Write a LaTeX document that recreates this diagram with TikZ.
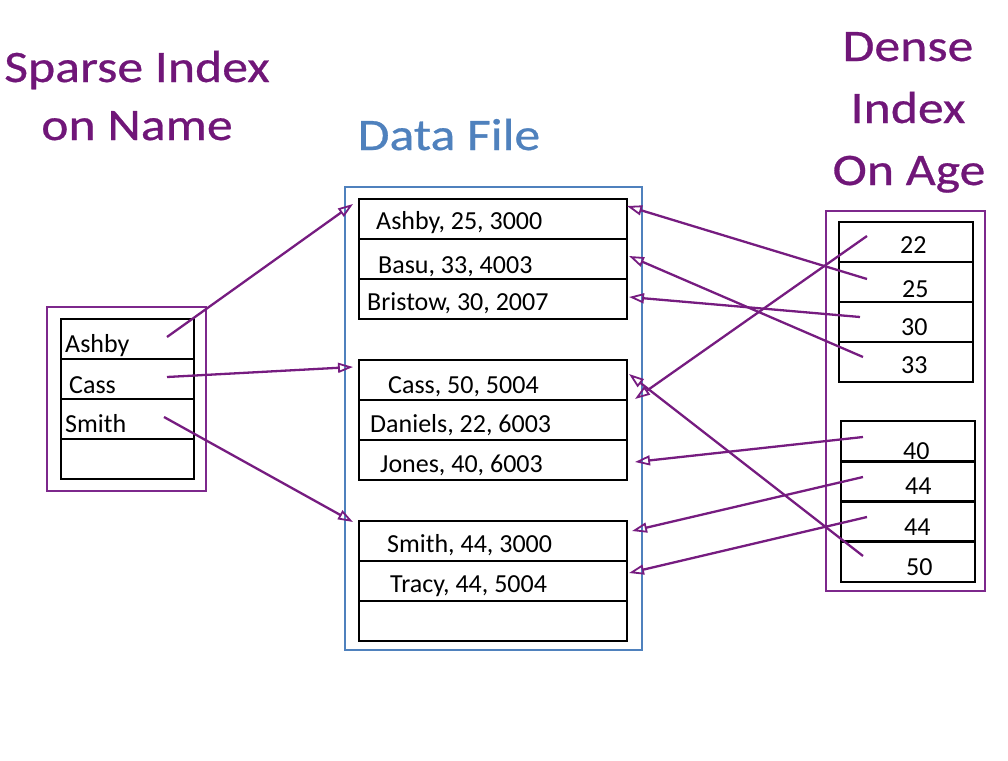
\documentclass[tikz,border=0pt]{standalone}
\usepackage{fontspec}
\setmainfont{Carlito}
\newfontfamily\titlefont[FakeStretch=1.15,FakeBold=0.6]{Carlito}
\usetikzlibrary{arrows.meta}
\definecolor{ttlpurple}{RGB}{112,22,120}
\definecolor{arrpurple}{RGB}{118,28,128}
\definecolor{boxpurple}{RGB}{125,40,140}
\definecolor{fileblue}{RGB}{79,129,189}
\tikzset{
  cellbox/.style={draw=black, line width=2.3pt, anchor=north west, inner sep=0pt},
  outerbox/.style={draw=boxpurple, line width=2.3pt, anchor=north west, inner sep=0pt},
  filebox/.style={draw=fileblue, line width=1.8pt, anchor=north west, inner sep=0pt},
  txt/.style={anchor=base west, inner sep=0pt, font=\fontsize{26}{31}\selectfont},
  ttl/.style={anchor=base, inner sep=0pt, font=\titlefont\fontsize{45}{54}\selectfont},
  ptr/.style={draw=arrpurple, line width=2.3pt, -{Triangle[open, length=15pt, width=10pt, line width=1.8pt]}}
}
\begin{document}
\begin{tikzpicture}[x=1pt,y=-1pt]
\useasboundingbox (0,0) rectangle (1008,760);

% titles
\node[ttl, text=ttlpurple] (t1) at (137,82) {Sparse Index};
\node[ttl, text=ttlpurple] (t2) at (137,140) {on Name};
\node[ttl, text=fileblue] (t3) at (449,150) {Data File};
\node[ttl, text=ttlpurple] (t4) at (908,61) {Dense};
\node[ttl, text=ttlpurple] (t5) at (908,123) {Index};
\node[ttl, text=ttlpurple] (t6) at (909,185) {On Age};

% outer boxes
\node[outerbox, minimum width=159pt, minimum height=184pt] (sparse) at (46,306) {};
\node[filebox, minimum width=297pt, minimum height=463pt] (file) at (344,186) {};
\node[outerbox, minimum width=159pt, minimum height=380pt] (dense) at (825,210) {};

% sparse cells
\foreach \i/\y in {1/318,2/358,3/398,4/438}
  \node[cellbox, minimum width=133pt, minimum height=40pt] (s\i) at (60,\y) {};

% data cells
\foreach \i/\y in {1/198,2/238,3/278,4/359,5/399,6/439,7/520,8/560,9/600}
  \node[cellbox, minimum width=268pt, minimum height=40pt] (d\i) at (358,\y) {};

% dense cells
\foreach \i/\y in {1/221,2/261,3/301,4/341}
  \node[cellbox, minimum width=134pt, minimum height=40pt] (a\i) at (838,\y) {};
\foreach \i/\y in {5/420,6/460,7/500,8/540}
  \node[cellbox, minimum width=134pt, minimum height=41pt] (a\i) at (840,\y) {};

% sparse texts
\node[txt] (sx1) at (65,352) {Ashby};
\node[txt] (sx2) at (69,393) {Cass};
\node[txt] (sx3) at (65,432) {Smith};

% data texts
\node[txt] (dx1) at (376,229) {Ashby, 25, 3000};
\node[txt] (dx2) at (378,273) {Basu, 33, 4003};
\node[txt] (dx3) at (367,310) {Bristow, 30, 2007};
\node[txt] (dx4) at (388,393) {Cass, 50, 5004};
\node[txt] (dx5) at (370,432) {Daniels, 22, 6003};
\node[txt] (dx6) at (380,472) {Jones, 40, 6003};
\node[txt] (dx7) at (387,552) {Smith, 44, 3000};
\node[txt] (dx8) at (390,592) {Tracy, 44, 5004};

% dense texts
\node[txt] (ax1) at (900,253) {22};
\node[txt] (ax2) at (902,297) {25};
\node[txt] (ax3) at (901,335) {30};
\node[txt] (ax4) at (901,373) {33};
\node[txt] (ax5) at (903,459) {40};
\node[txt] (ax6) at (905,494) {44};
\node[txt] (ax7) at (904,535) {44};
\node[txt] (ax8) at (906,575) {50};

% pointer coordinates
\coordinate (ps1) at (167,337); \coordinate (pe1) at (353,204);
\coordinate (ps2) at (167,377); \coordinate (pe2) at (353,367);
\coordinate (ps3) at (164,417); \coordinate (pe3) at (353,522);
\coordinate (q22) at (867,236); \coordinate (r22) at (635,399);
\coordinate (q25) at (867,279); \coordinate (r25) at (627,206);
\coordinate (q30) at (860,317); \coordinate (r30) at (629,297);
\coordinate (q33) at (863,357); \coordinate (r33) at (629,256);
\coordinate (q40) at (863,437); \coordinate (r40) at (635,462);
\coordinate (q44a) at (863,477); \coordinate (r44a) at (632,531);
\coordinate (q44b) at (867,517); \coordinate (r44b) at (629,573);
\coordinate (q50) at (863,556); \coordinate (r50) at (629,374);

\draw[ptr] (ps1) -- (pe1);
\draw[ptr] (ps2) -- (pe2);
\draw[ptr] (ps3) -- (pe3);
\draw[ptr] (q22) -- (r22);
\draw[ptr] (q25) -- (r25);
\draw[ptr] (q30) -- (r30);
\draw[ptr] (q33) -- (r33);
\draw[ptr] (q40) -- (r40);
\draw[ptr] (q44a) -- (r44a);
\draw[ptr] (q44b) -- (r44b);
\draw[ptr] (q50) -- (r50);
\end{tikzpicture}
\end{document}
